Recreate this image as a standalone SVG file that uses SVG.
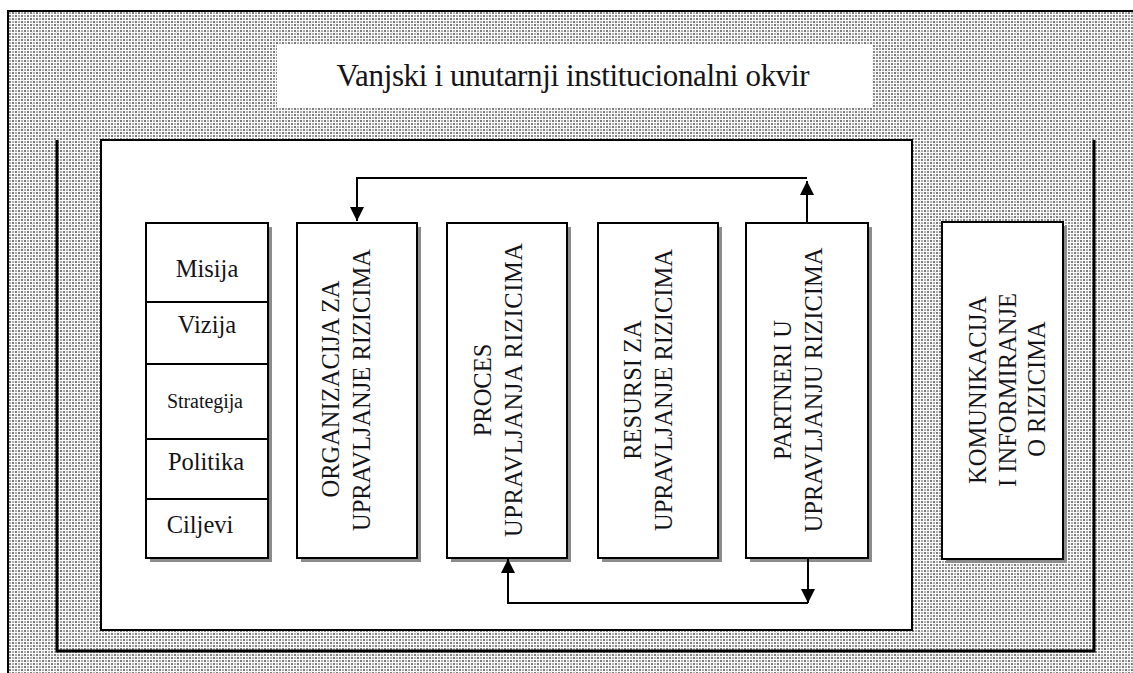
<svg xmlns="http://www.w3.org/2000/svg" width="1133" height="673" viewBox="0 0 1133 673">
<style>
.t{font-family:"Liberation Serif","Times New Roman",serif;fill:#141418}
.v{font-size:24.5px;text-anchor:middle}
.box{fill:#fff;stroke:#000;stroke-width:2}
.sh{fill:#8c8c8c}
.con{fill:none;stroke:#000;stroke-width:2}
</style>
<defs>
<pattern id="dots" width="6" height="6" patternUnits="userSpaceOnUse">
<rect width="6" height="6" fill="#fff"/>
<rect x="0.2" y="0.2" width="1.6" height="1.6" fill="#333"/>
<rect x="3.2" y="3.2" width="1.6" height="1.6" fill="#333"/>
<rect x="2.9" y="0.1" width="2.2" height="1.9" fill="#ababab"/>
<rect x="-0.1" y="3.1" width="2.2" height="1.9" fill="#ababab"/>
</pattern>
<marker id="arr" viewBox="0 0 10 10" refX="10" refY="5" markerWidth="14" markerHeight="14" markerUnits="userSpaceOnUse" orient="auto">
<path d="M0,0 L10,5 L0,10 z" fill="#000"/>
</marker>
</defs>
<rect width="1133" height="673" fill="#fff"/>
<g id="frame">
<rect x="8" y="11" width="1135" height="675" fill="url(#dots)" stroke="#000" stroke-width="2"/>
</g>
<g id="title">
<rect x="277" y="45" width="595" height="63" fill="#fff"/>
<text class="t" x="573" y="86" font-size="31" text-anchor="middle" textLength="473">Vanjski i unutarnji institucionalni okvir</text>
</g>
<g id="ubracket">
<path d="M57,140 V651 H1094 V140" fill="none" stroke="#000" stroke-width="3"/>
</g>
<g id="inner">
<rect x="101" y="140" width="811" height="490" class="box"/>
</g>
<g id="left-column">
<rect x="150" y="227" width="122" height="335" class="sh"/>
<rect x="146" y="223" width="122" height="335" class="box"/>
<path d="M146,302 H268 M146,364 H268 M146,439 H268 M146,499 H268" stroke="#000" stroke-width="2"/>
<text class="t" x="207" y="277" font-size="24.5" text-anchor="middle">Misija</text>
<text class="t" x="207" y="333" font-size="24.5" text-anchor="middle">Vizija</text>
<text class="t" x="205" y="408" font-size="20" text-anchor="middle" textLength="76">Strategija</text>
<text class="t" x="206" y="470" font-size="24.5" text-anchor="middle">Politika</text>
<text class="t" x="200" y="533" font-size="24.5" text-anchor="middle">Ciljevi</text>
</g>
<g id="organizacija">
<rect x="301" y="227" width="120" height="335" class="sh"/>
<rect x="297" y="223" width="120" height="335" class="box"/>
<text class="t v" transform="translate(339,389) rotate(-90)">ORGANIZACIJA ZA</text>
<text class="t v" transform="translate(370,390) rotate(-90)">UPRAVLJANJE RIZICIMA</text>
</g>
<g id="proces">
<rect x="451" y="227" width="120" height="335" class="sh"/>
<rect x="447" y="223" width="120" height="335" class="box"/>
<text class="t v" transform="translate(491,390) rotate(-90)">PROCES</text>
<text class="t v" transform="translate(522,390) rotate(-90)" textLength="294">UPRAVLJANJA RIZICIMA</text>
</g>
<g id="resursi">
<rect x="602" y="227" width="120" height="335" class="sh"/>
<rect x="598" y="223" width="120" height="335" class="box"/>
<text class="t v" transform="translate(641,390) rotate(-90)">RESURSI ZA</text>
<text class="t v" transform="translate(672,390) rotate(-90)">UPRAVLJANJE RIZICIMA</text>
</g>
<g id="partneri">
<rect x="750" y="227" width="122" height="335" class="sh"/>
<rect x="746" y="223" width="122" height="335" class="box"/>
<text class="t v" transform="translate(791,390) rotate(-90)">PARTNERI U</text>
<text class="t v" transform="translate(822,390) rotate(-90)">UPRAVLJANJU RIZICIMA</text>
</g>
<g id="komunikacija">
<rect x="946" y="226" width="121" height="337" class="sh"/>
<rect x="942" y="222" width="121" height="337" class="box"/>
<text class="t v" transform="translate(986,390) rotate(-90)">KOMUNIKACIJA</text>
<text class="t v" transform="translate(1016,390) rotate(-90)">I INFORMIRANJE</text>
<text class="t v" transform="translate(1045,389) rotate(-90)">O RIZICIMA</text>
</g>
<g id="connectors">
<path class="con" d="M807,222 V181" marker-end="url(#arr)"/>
<path class="con" d="M807,178 H357 V221" marker-end="url(#arr)"/>
<path class="con" d="M808,559 V603" marker-end="url(#arr)"/>
<path class="con" d="M808,603 H508 V559" marker-end="url(#arr)"/>
</g>
</svg>
